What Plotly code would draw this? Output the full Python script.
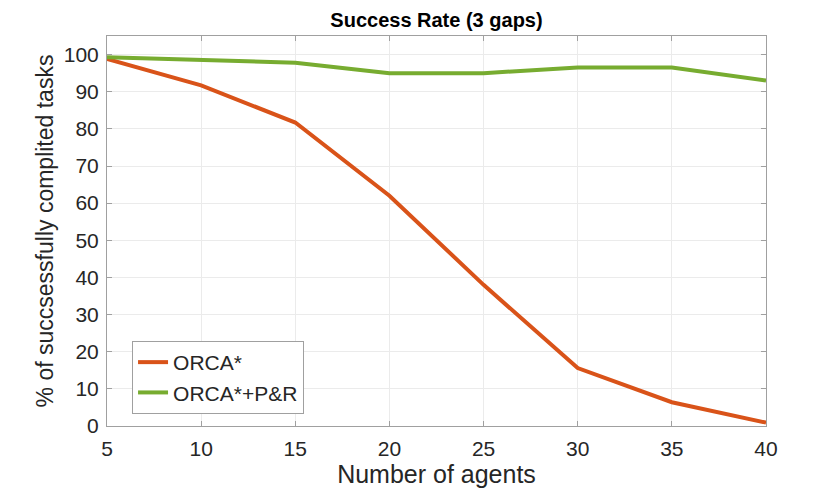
import plotly.graph_objects as go

agents = [5, 10, 15, 20, 25, 30, 35, 40]
orca = [98.8, 91.7, 81.7, 62.0, 38.0, 15.6, 6.4, 0.9]
orca_pr = [99.3, 98.6, 97.8, 95.0, 95.0, 96.5, 96.5, 93.0]

font = "Liberation Sans, Arial, sans-serif"
txt = "#262626"

fig = go.Figure()
fig.add_trace(go.Scatter(x=agents, y=orca, mode="lines", name="ORCA*",
                         line=dict(color="#D95319", width=4)))
fig.add_trace(go.Scatter(x=agents, y=orca_pr, mode="lines", name="ORCA*+P&R",
                         line=dict(color="#77AC30", width=4)))

axis = dict(showline=True, linecolor="#a0a0a0", linewidth=1, mirror="ticks",
            ticks="inside", ticklen=5, tickcolor="#a0a0a0",
            showgrid=True, gridcolor="#ebebeb", gridwidth=1, zeroline=False,
            automargin=False,
            tickfont=dict(size=21, color=txt, family=font))

fig.update_xaxes(axis, range=[5, 40], dtick=5, ticklabelstandoff=4,
                 title=dict(text="Number of agents", font=dict(size=25, color=txt, family=font),
                            standoff=2))
fig.update_yaxes(axis, range=[0, 105], tickvals=list(range(0, 101, 10)), ticklabelstandoff=3,
                 title=dict(text="% of succsessfully complited tasks",
                            font=dict(size=23, color=txt, family=font), standoff=3))

# page body adds an 8px offset, so margins are shifted to compensate
fig.update_layout(
    width=830, height=490,
    margin=dict(l=99, r=72, t=28, b=72),
    plot_bgcolor="white", paper_bgcolor="white",
    title=dict(text="<b>Success Rate (3 gaps)</b>", x=0.5, xanchor="center",
               xref="paper", y=0.975, yref="container", yanchor="middle",
               font=dict(size=20, color="black", family=font)),
    legend=dict(x=0.038, y=0.218, xanchor="left", yanchor="top",
                bordercolor="#a0a0a0", borderwidth=1, bgcolor="white",
                font=dict(size=21, color=txt, family=font),
                itemwidth=30, tracegroupgap=0),
)

fig.write_html("out.html")
